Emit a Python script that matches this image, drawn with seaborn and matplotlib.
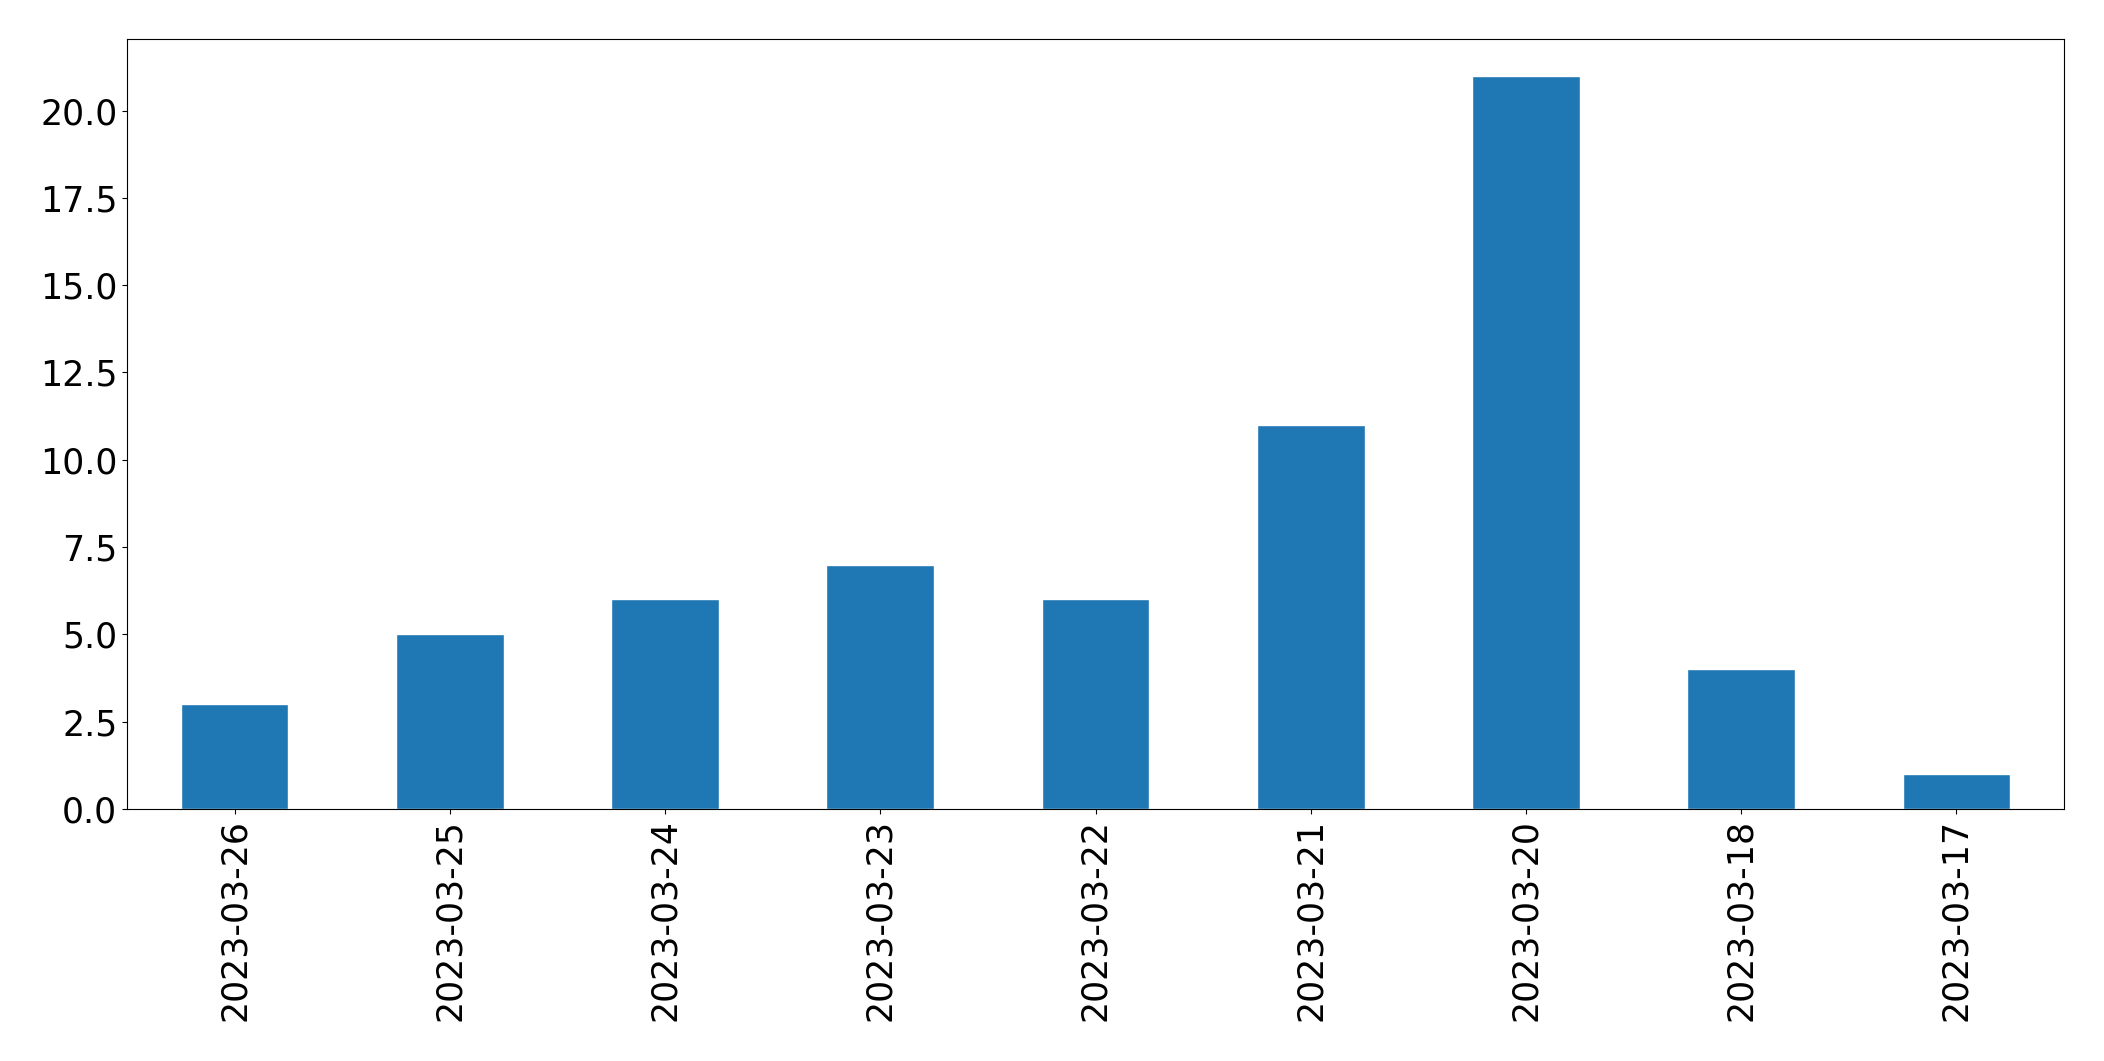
import matplotlib
matplotlib.use("Agg")
import matplotlib.pyplot as plt
import seaborn as sns
import pandas as pd

dates = ["2023-03-26", "2023-03-25", "2023-03-24", "2023-03-23", "2023-03-22",
         "2023-03-21", "2023-03-20", "2023-03-18", "2023-03-17"]
counts = [3, 5, 6, 7, 6, 11, 21, 4, 1]

df = pd.DataFrame({"date": dates, "count": counts})

sns.set_style("white")
plt.rcParams['font.family'] = ['DejaVu Sans']

fig = plt.figure(figsize=(21.04, 10.61), dpi=100)
ax = fig.add_axes([127/2104, 1 - 809/1061, (2064-127)/2104, (809-39)/1061])
sns.barplot(data=df, x="date", y="count", color="#1f77b4", saturation=1,
            width=0.5, ax=ax, order=dates)
ax.set_xlim(-0.5, len(dates) - 0.5)
ax.set_ylim(0, 22.05)
ax.set_xlabel("")
ax.set_ylabel("")
ax.tick_params(axis="x", labelrotation=90, labelsize=25, length=3.5, width=0.8,
               bottom=True, colors="black")
ax.tick_params(axis="y", labelsize=25, length=3.5, width=0.8, left=True, colors="black")
for s in ax.spines.values():
    s.set_visible(True)
    s.set_color("black")
    s.set_linewidth(0.8)
fig.savefig("out.png", dpi=100)
